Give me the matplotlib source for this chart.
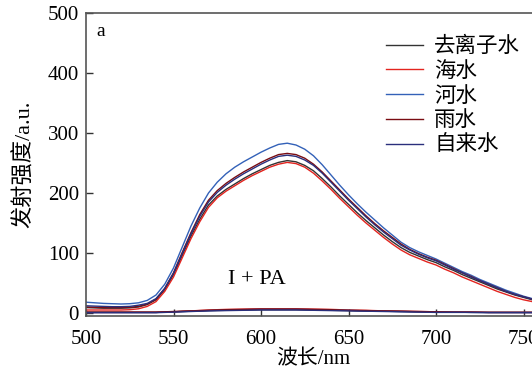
import matplotlib
matplotlib.use("Agg")
import matplotlib.pyplot as plt

plt.rcParams['font.family'] = ['Liberation Serif', 'Noto Sans CJK SC']

wavelength = list(range(500, 761, 5))

# 样品 + PA
deionized = [9, 8.5, 8, 8, 8, 8.5, 10, 14, 22, 39, 64, 96, 128, 156, 180, 195, 206, 215,
             224, 232, 239, 246, 251, 254, 252, 246, 237, 224, 210, 195, 181, 167, 154,
             142, 130, 119, 109, 101, 95, 89, 84, 77, 71, 64, 58, 52, 46, 40, 35, 30, 26, 22, 19]
sea = [5, 5, 5, 5, 5, 5.5, 7, 11, 19, 36, 60, 92, 124, 152, 176, 192, 203, 212,
       221, 229, 236, 243, 248, 251, 249, 243, 233, 220, 206, 191, 177, 163, 150,
       138, 126, 115, 105, 97, 91, 85, 80, 73, 67, 60, 54, 48, 42, 36, 31, 26, 22, 19, 16]
river = [18, 17, 16, 15.5, 15, 15.5, 17, 21, 30, 48, 75, 110, 145, 175, 200, 218, 232, 243,
         252, 260, 268, 275, 281, 283, 280, 273, 262, 247, 230, 213, 197, 182, 168,
         155, 142, 130, 118, 109, 102, 96, 90, 83, 76, 69, 63, 56, 50, 44, 38, 33, 28, 24, 20]
rain = [10, 9.5, 9, 9, 9, 9.5, 11, 15, 23, 41, 67, 101, 134, 164, 188, 204, 216, 226,
        235, 243, 251, 258, 264, 266, 264, 258, 248, 235, 220, 205, 190, 176, 162,
        149, 137, 126, 115, 106, 99, 93, 88, 81, 74, 67, 61, 54, 48, 42, 36, 31, 27, 23, 20]
tap = [12, 11.5, 11, 10.5, 10.5, 11, 13, 16, 24, 41, 66, 99, 132, 161, 185, 201, 213, 223,
       232, 240, 248, 255, 261, 263, 261, 255, 246, 233, 218, 203, 188, 174, 160,
       147, 135, 124, 113, 105, 98, 92, 87, 80, 73, 67, 60, 54, 48, 42, 36, 31, 27, 23, 20]

# I + PA
wavelength_low = [500, 510, 520, 530, 540, 550, 560, 570, 580, 590, 600, 610, 620,
                  630, 640, 650, 660, 670, 680, 690, 700, 710, 720, 730, 740, 750, 760]
low_deionized = [1, 1, 1, 1, 1, 2, 3, 4, 4.5, 5, 5.5, 5.5, 5.5,
                 5, 4.5, 4, 3.5, 3, 2.5, 2, 1.5, 1.5, 1, 1, 1, 1, 1]
low_sea = [1, 1, 1, 1, 1, 2, 3.5, 5, 6, 6.5, 7, 7, 7,
           6.5, 6, 5, 4.5, 3.5, 3, 2.5, 2, 1.5, 1.5, 1, 1, 1, 1]
low_river = [1, 1, 1, 1, 1, 2, 3, 4, 5, 5.5, 6, 6, 6,
             5.5, 5, 4.5, 3.5, 3, 2.5, 2, 1.5, 1.5, 1, 1, 1, 1, 1]
low_rain = [1.5, 1.5, 1.5, 1.5, 1.5, 2.5, 3.5, 4.5, 5.5, 6, 6.5, 6.5, 6.5,
            6, 5.5, 4.5, 4, 3.5, 3, 2.5, 2, 1.5, 1.5, 1, 1, 1, 1]
low_tap = [0.5, 0.5, 0.5, 0.5, 0.5, 1.5, 2.5, 3.5, 4, 4.5, 5, 5, 5,
           4.5, 4, 3.5, 3, 2.5, 2, 1.5, 1, 1, 1, 0.5, 0.5, 0.5, 0.5]

labels = ["去离子水", "海水", "河水", "雨水", "自来水"]
colors = ["#333333", "#e3241f", "#3361b8", "#7a0c12", "#2a2f7c"]

fig = plt.figure(figsize=(5.32, 3.71), dpi=100)
ax = fig.add_axes([86 / 532, 55 / 371, 455 / 532, 303 / 371])

for ys, lab, c in zip([deionized, sea, river, rain, tap], labels, colors):
    ax.plot(wavelength, ys, color=c, lw=1.0, label=lab)
for ys, c in zip([low_deionized, low_sea, low_river, low_rain, low_tap], colors):
    ax.plot(wavelength_low, ys, color=c, lw=1.0)

ax.set_xlim(500, 760)
ax.set_ylim(-5, 500)
ax.set_xticks([500, 550, 600, 650, 700, 750])
ax.set_yticks([0, 100, 200, 300, 400, 500])
ax.tick_params(direction="in", length=5, width=1, labelsize=15, color="#333333")
ax.tick_params(axis="x", pad=10)
ax.tick_params(axis="y", pad=5)
for s in ax.spines.values():
    s.set_color("#555555")
    s.set_linewidth(1.2)

ax.set_xlabel("波长/nm", fontsize=15, labelpad=1)
ax.set_ylabel("发射强度/a.u.", fontsize=16, labelpad=9)

ax.text(0.022, 0.94, "a", transform=ax.transAxes, fontsize=14, va="center")
ax.text(581, 55, "I + PA", fontsize=16, va="center")

ax.legend(loc="upper left", bbox_to_anchor=(0.64, 0.95), frameon=False,
          fontsize=15.5, handlelength=1.75, handletextpad=0.5, labelspacing=0.22,
          borderaxespad=0)

fig.savefig("out.png", dpi=100)
